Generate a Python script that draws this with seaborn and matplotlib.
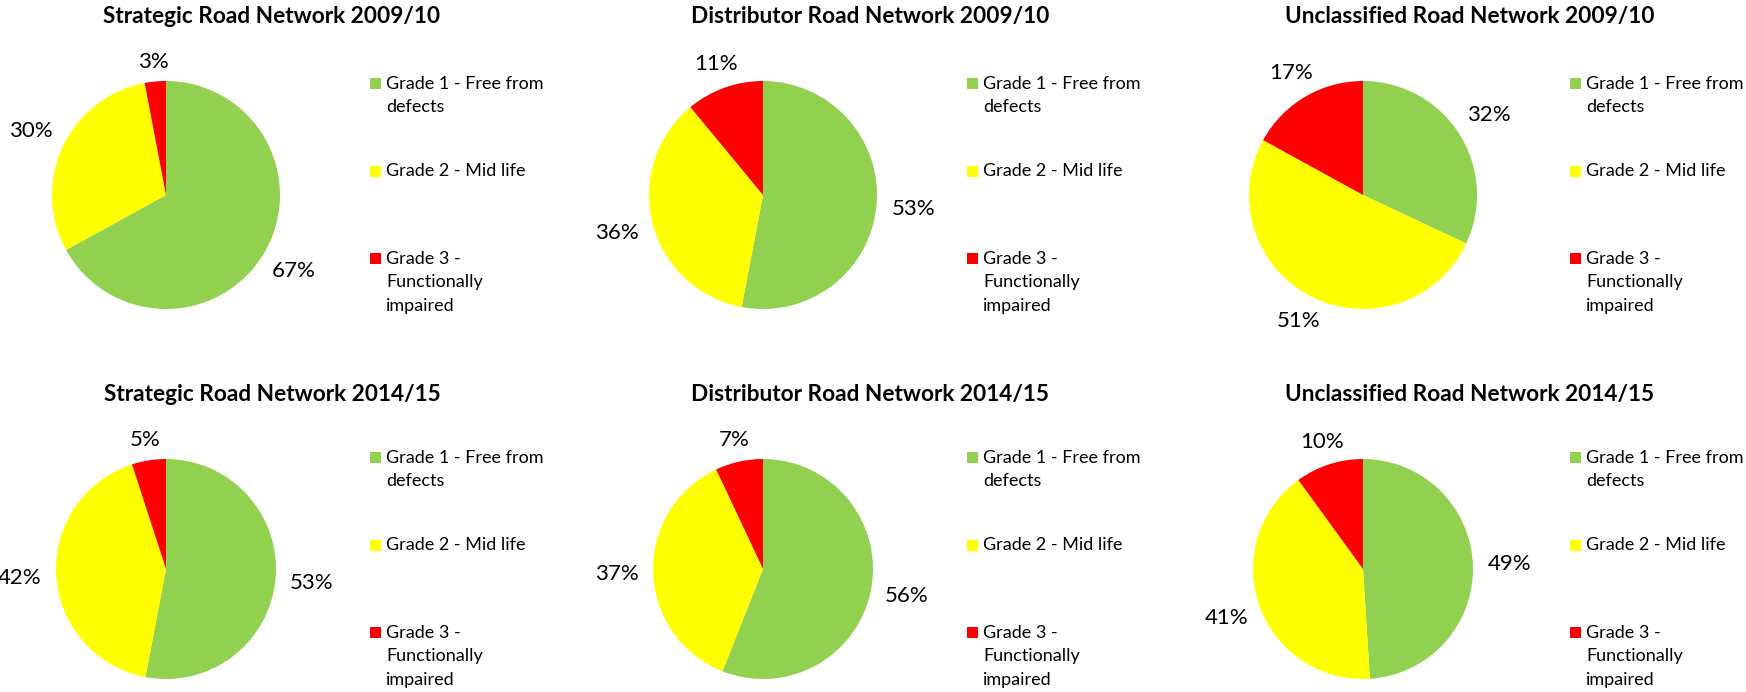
import matplotlib
matplotlib.use("Agg")
import matplotlib.pyplot as plt
from matplotlib.patches import Rectangle
import seaborn as sns
import numpy as np

# ---- data ----
grades = ["Grade 1 - Free from\ndefects", "Grade 2 - Mid life", "Grade 3 -\nFunctionally\nimpaired"]
grade_colors = ["#92D050", "#FFFF00", "#FF0000"]

titles = [
    ["Strategic Road Network 2009/10", "Distributor Road Network 2009/10", "Unclassified Road Network 2009/10"],
    ["Strategic Road Network 2014/15", "Distributor Road Network 2014/15", "Unclassified Road Network 2014/15"],
]

strategic_0910 = [67, 30, 3]
distributor_0910 = [53, 36, 11]
unclassified_0910 = [32, 51, 17]
strategic_1415 = [53, 42, 5]
distributor_1415 = [56, 37, 7]
unclassified_1415 = [49, 41, 10]

panels = [
    [strategic_0910, distributor_0910, unclassified_0910],
    [strategic_1415, distributor_1415, unclassified_1415],
]

# ---- style ----
sns.set_theme(style="white")
plt.rcParams['font.family'] = ['Lato', 'DejaVu Sans']

W, H = 1746, 692
fig = plt.figure(figsize=(W / 100, H / 100), dpi=100)
fig.patch.set_facecolor("white")

# layout (pixels)
col_pie_x = [166, 763, 1363]
row_pie_y = [195, 569]
row_r = [114, 110]
col_leg_x = [370, 967, 1570]
row_leg_base = [89, 463]
leg_step = 87.5
line_step = 23.3
title_x = [272, 870, 1470]
title_base = [23, 401]
L = 1.6

TITLE_FS = 16.3
LABEL_FS = 16
LEG_FS = 13

for i in range(2):
    for j in range(3):
        vals = panels[i][j]
        cx, cy, r = col_pie_x[j], row_pie_y[i], row_r[i]
        half = L * r
        ax = fig.add_axes([(cx - half) / W, 1 - (cy + half) / H, 2 * half / W, 2 * half / H])
        wedges, _, autotexts = ax.pie(
            vals, colors=grade_colors, startangle=90, counterclock=False,
            autopct=lambda p: f"{p:.0f}%", pctdistance=1.3,
            wedgeprops=dict(linewidth=0),
            textprops=dict(fontsize=LABEL_FS, color="black"),
        )
        for w, t in zip(wedges, autotexts):
            th = np.deg2rad((w.theta1 + w.theta2) / 2)
            d = 1.16 + 0.17 * abs(np.cos(th))
            t.set_position((d * np.cos(th), d * np.sin(th)))
            t.set_ha("center")
            t.set_va("center")
        ax.set_xlim(-L, L)
        ax.set_ylim(-L, L)
        ax.set_aspect("equal")
        ax.axis("off")

        # title
        fig.text(title_x[j] / W, 1 - title_base[i] / H, titles[i][j],
                 ha="center", va="baseline", fontsize=TITLE_FS, fontweight="bold", color="black")

        # legend
        lx = col_leg_x[j]
        for k, lab in enumerate(grades):
            base = row_leg_base[i] + k * leg_step
            fig.add_artist(Rectangle((lx / W, 1 - base / H), 11 / W, 11 / H,
                                     transform=fig.transFigure, facecolor=grade_colors[k],
                                     edgecolor="none"))
            for n, line in enumerate(lab.split("\n")):
                fig.text((lx + 16) / W, 1 - (base + n * line_step) / H, line,
                         ha="left", va="baseline", fontsize=LEG_FS, color="black")

fig.savefig("out.png", dpi=100, facecolor="white")
